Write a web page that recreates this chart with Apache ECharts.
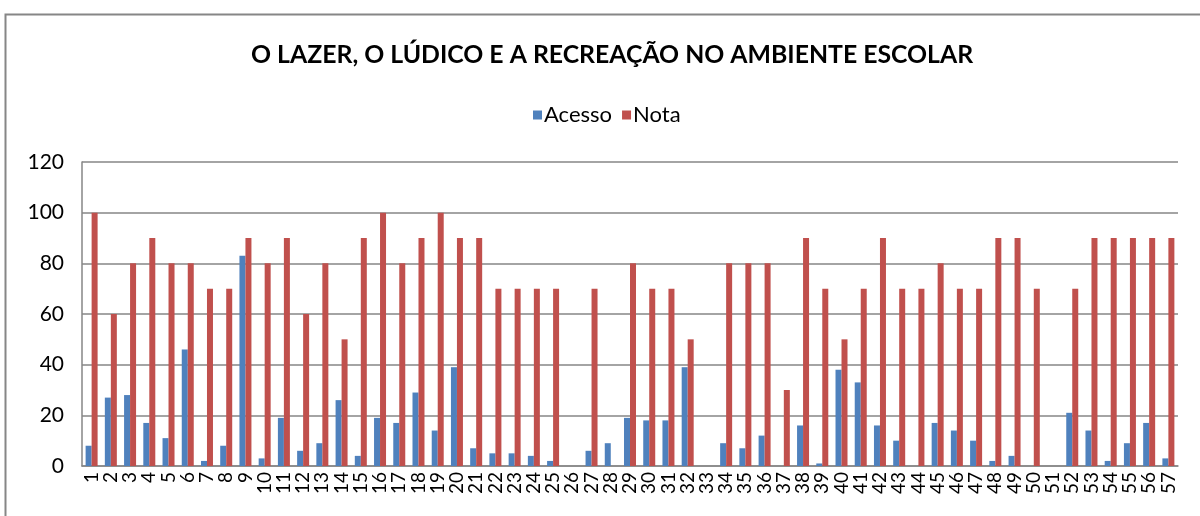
<!DOCTYPE html>
<html><head><meta charset="utf-8">
<script src="https://cdn.jsdelivr.net/npm/echarts@6/dist/echarts.min.js"></script>
<style>html,body{margin:0;padding:0;background:#fff}#c{width:1200px;height:516px}</style>
</head><body><div id="c"></div>
<script>
const categories = ['1','2','3','4','5','6','7','8','9','10','11','12','13','14','15','16','17','18','19','20','21','22','23','24','25','26','27','28','29','30','31','32','33','34','35','36','37','38','39','40','41','42','43','44','45','46','47','48','49','50','51','52','53','54','55','56','57'];
const acesso = [8,27,28,17,11,46,2,8,83,3,19,6,9,26,4,19,17,29,14,39,7,5,5,4,2,0,6,9,19,18,18,39,0,9,7,12,0,16,1,38,33,16,10,0,17,14,10,2,4,0,0,21,14,2,9,17,3];
const nota = [100,60,80,90,80,80,70,70,90,80,90,60,80,50,90,100,80,90,100,90,90,70,70,70,70,0,70,0,80,70,70,50,0,80,80,80,30,90,70,50,70,90,70,70,80,70,70,90,90,70,0,70,90,90,90,90,90];
const yTicks = [0,20,40,60,80,100,120];

const FONT = 'Lato, "Open Sans", sans-serif';
const chart = echarts.init(document.getElementById('c'), null, {renderer:'canvas'});
chart.setOption({
  backgroundColor:'#fff',
  animation:false,
  graphic:[{type:'polyline',shape:{points:[[5.5,520],[5.5,14.5],[1205,14.5]]},style:{stroke:'#868686',lineWidth:2,fill:null},silent:true}],
  title:{text:'O LAZER, O LÚDICO E A RECREAÇÃO NO AMBIENTE ESCOLAR',left:246,top:38,
    textStyle:{fontFamily:FONT,fontWeight:'bold',fontSize:24.8,color:'#000'}},
  legend:{top:99,left:528,itemWidth:9,itemHeight:9,itemGap:10,icon:'rect',
    textStyle:{fontFamily:FONT,fontSize:22,color:'#000',padding:[0,0,0,-3]},
    data:['Acesso','Nota']},
  grid:{left:82,right:22,top:162,bottom:50,containLabel:false},
  xAxis:{type:'category',data:categories,
    axisLine:{lineStyle:{color:'#868686',width:1.5}},
    axisTick:{show:false},
    axisLabel:{interval:0,rotate:90,fontFamily:FONT,fontSize:19,color:'#000',margin:6}},
  yAxis:{type:'value',min:0,max:120,interval:20,
    axisLine:{show:true,lineStyle:{color:'#868686',width:1.5}},
    axisTick:{show:false},
    splitLine:{lineStyle:{color:'#868686',width:1.5}},
    axisLabel:{fontFamily:FONT,fontSize:21,color:'#000',margin:18,
      formatter:v=>yTicks.includes(v)?String(v):''}},
  series:[
    {name:'Acesso',type:'bar',data:acesso,itemStyle:{color:'#4F81BD'},barWidth:6,barGap:'0%'},
    {name:'Nota',type:'bar',data:nota,itemStyle:{color:'#C0504D'},barWidth:6,barGap:'0%'}
  ]
});
</script></body></html>
